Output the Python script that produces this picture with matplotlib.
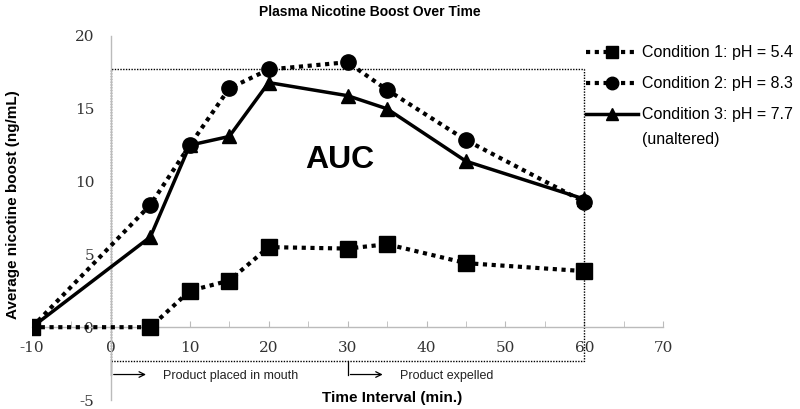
"""Plasma nicotine boost over time, three pH conditions."""

import matplotlib
matplotlib.use("Agg")
import matplotlib.pyplot as plt
from matplotlib.lines import Line2D
from matplotlib.patches import Rectangle

plt.rcParams["font.family"] = ["Liberation Sans", "DejaVu Sans"]
plt.rcParams["axes.unicode_minus"] = False

time_min = [-10, 5, 10, 15, 20, 30, 35, 45, 60]
cond1 = [0.0, 0.0, 2.5, 3.2, 5.5, 5.4, 5.7, 4.4, 3.85]
cond2 = [0.0, 8.4, 12.5, 16.4, 17.7, 18.2, 16.3, 12.85, 8.6]
cond3 = [0.0, 6.2, 12.5, 13.1, 16.8, 15.9, 15.0, 11.4, 8.8]
labels = ["Condition 1: pH = 5.4", "Condition 2: pH = 8.3", "Condition 3: pH = 7.7"]
label3_extra = "(unaltered)"

auc_x = (0, 60)
auc_y = (-2.3, 17.75)
events = [(0, "Product placed in mouth"), (30, "Product expelled")]

fig = plt.figure(figsize=(8, 4.09), dpi=100)
ax = fig.add_axes([0.04, 0.022, 0.789, 0.89])

dot = (0, (1, 1.1))
ax.plot(time_min, cond1, color="black", lw=3, ls=dot, marker="s", ms=12, zorder=3)
ax.plot(time_min, cond2, color="black", lw=3, ls=dot, marker="o", ms=11, zorder=3)
ax.plot(time_min, cond3, color="black", lw=2.5, ls="-", marker="^", ms=10, zorder=3)

ax.set_xlim(-10, 70)
ax.set_ylim(-5, 20)
ax.spines["left"].set_position(("data", 0))
ax.spines["bottom"].set_position(("data", 0))
for s in ("top", "right"):
    ax.spines[s].set_visible(False)
for s in ("left", "bottom"):
    ax.spines[s].set_color("#bbbbbb")
    ax.spines[s].set_linewidth(1)

ax.set_xticks(range(-10, 71, 10))
ax.set_xticks(range(-10, 71, 5), minor=True)
ax.set_yticks(range(-5, 21, 5))
ax.tick_params(axis="x", which="both", direction="in", length=4, color="#bbbbbb",
               labelsize=12, pad=10)
ax.tick_params(axis="y", length=0, labelsize=12, pad=12)
for t in ax.get_xticklabels() + ax.get_yticklabels():
    t.set_family("DejaVu Serif")
    t.set_fontsize(11)
    t.set_color("#333333")

# AUC box
ax.add_patch(Rectangle((auc_x[0], auc_y[0]), auc_x[1] - auc_x[0], auc_y[1] - auc_y[0],
                       fill=False, ec="black", lw=1, ls=(0, (1, 1)), zorder=2))
ax.text(29, 11.5, "AUC", fontsize=23, fontweight="bold", ha="center", va="center")

for x0, txt in events:
    ax.plot([x0, x0], [auc_y[0], -3.25], color="black", lw=0.9)
    ax.annotate("", xy=(x0 + 4.8, -3.25), xytext=(x0, -3.25),
                arrowprops=dict(arrowstyle="->", color="black", lw=0.9))
    ax.text(x0 + 6.6, -3.35, txt, fontsize=9, va="center", ha="left", color="#222222")

fig.text(0.4625, 0.97, "Plasma Nicotine Boost Over Time", ha="center", va="center",
         fontsize=10, fontweight="bold")
fig.text(0.016, 0.5, "Average nicotine boost (ng/mL)", rotation=90, ha="center",
         va="center", fontsize=11, fontweight="bold")
fig.text(0.49, 0.027, "Time Interval (min.)", ha="center", va="center",
         fontsize=11, fontweight="bold")

handles = [
    Line2D([], [], color="black", lw=3, ls=dot, marker="s", ms=9),
    Line2D([], [], color="black", lw=3, ls=dot, marker="o", ms=9),
    Line2D([], [], color="black", lw=2.5, ls="-", marker="^", ms=8),
]
fig.legend(handles, labels, loc="upper left", bbox_to_anchor=(0.725, 0.905),
           frameon=False, fontsize=11.5, handlelength=3.2, handletextpad=0.3,
           labelspacing=1.0, borderaxespad=0)
fig.text(0.803, 0.658, label3_extra, ha="left", va="center", fontsize=11.5)

fig.savefig("out.png", dpi=100)
